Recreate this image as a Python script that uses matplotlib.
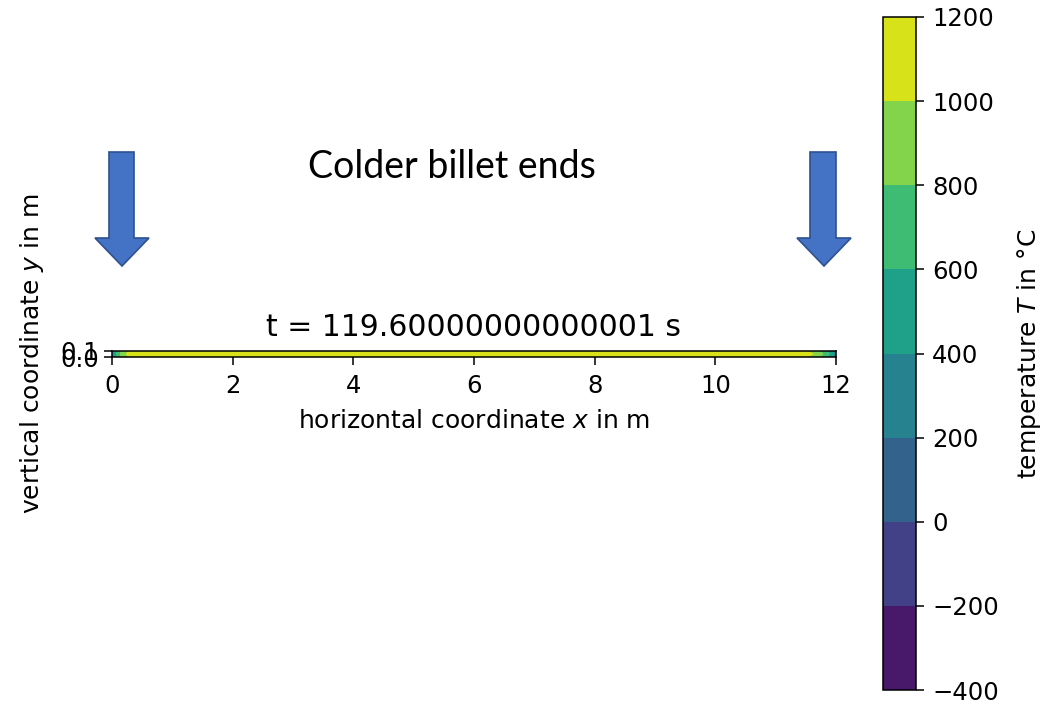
#!/usr/bin/env python3
"""
Temperature field of a billet after the reheating step, with colorbar
and a note on the colder ends.
"""

import numpy as np
import matplotlib
matplotlib.use("Agg")
import matplotlib.pyplot as plt
from matplotlib.patches import Polygon

# billet geometry sampled along length (m) and thickness (m)
x_nodes = [0.0, 0.06, 0.15, 0.26, 0.4, 6.0, 11.45, 11.62, 11.78, 11.92, 12.0]
y_nodes = [0.0, 0.05, 0.1]

# temperatures in degC, one row per y node
T_surface = [250, 470, 760, 950, 1040, 1080, 1040, 930, 720, 460, 240]
T_core = [330, 560, 850, 1040, 1110, 1130, 1110, 1000, 800, 550, 320]

levels = [-400, -200, 0, 200, 400, 600, 800, 1000, 1200]
time_s = 119.60000000000001

W, H = 1055, 705
TICK_FS = 17.5
LABEL_FS = 18


def fx(px):
    return px / W


def fy(py):
    return 1 - py / H


def block_arrow(fig, x_left, x_right, y_top, y_neck, head_left, head_right, y_tip):
    pts = [
        (x_left, y_top), (x_right, y_top), (x_right, y_neck),
        (head_right, y_neck), ((head_left + head_right) / 2, y_tip),
        (head_left, y_neck), (x_left, y_neck),
    ]
    poly = Polygon([(fx(a), fy(b)) for a, b in pts], closed=True,
                   transform=fig.transFigure, facecolor="#4472C4",
                   edgecolor="#2F528F", linewidth=1.2)
    fig.patches.append(poly)


def main():
    fig = plt.figure(figsize=(W / 100, H / 100), dpi=100)

    X, Y = np.meshgrid(x_nodes, y_nodes)
    T = np.array([T_surface, T_core, T_surface])

    ax = fig.add_axes([fx(112), fy(354) - 0.02, fx(836) - fx(112), 0.04])
    cs = ax.contourf(X, Y, T, levels=levels, cmap="viridis")
    ax.set_aspect("equal")
    ax.set_xlim(0, 12)
    ax.set_ylim(0, 0.1)
    ax.set_xticks([0, 2, 4, 6, 8, 10, 12])
    ax.set_yticks([0.0, 0.1])
    ax.set_yticklabels(["0.0", "0.1"])
    ax.tick_params(labelsize=TICK_FS, length=5.5, width=1.1, pad=4)
    ax.tick_params(axis="x", pad=7)
    for sp in ax.spines.values():
        sp.set_linewidth(1.1)
    ax.set_xlabel("horizontal coordinate $x$ in m", fontsize=LABEL_FS, labelpad=8)
    ax.set_ylabel("vertical coordinate $y$ in m", fontsize=LABEL_FS, labelpad=10)
    ax.set_title(f"t = {time_s} s", fontsize=21.5, pad=11)

    cax = fig.add_axes([fx(883), fy(690), fx(916) - fx(883), fy(17) - fy(690)])
    cb = fig.colorbar(cs, cax=cax, ticks=levels)
    cb.ax.tick_params(labelsize=TICK_FS, length=5.5, width=1.1, pad=6)
    cb.outline.set_linewidth(1.1)
    cb.set_label("temperature $T$ in °C", fontsize=LABEL_FS, labelpad=12)

    block_arrow(fig, 109, 134, 152, 238, 95, 149, 266)
    block_arrow(fig, 810, 836, 152, 238, 797, 851, 266)

    fig.text(fx(452), fy(167), "Colder billet ends", fontsize=27,
             family=["Lato", "DejaVu Sans"], ha="center", va="center")

    fig.savefig("out.png", dpi=100)
    plt.close(fig)


if __name__ == "__main__":
    main()
